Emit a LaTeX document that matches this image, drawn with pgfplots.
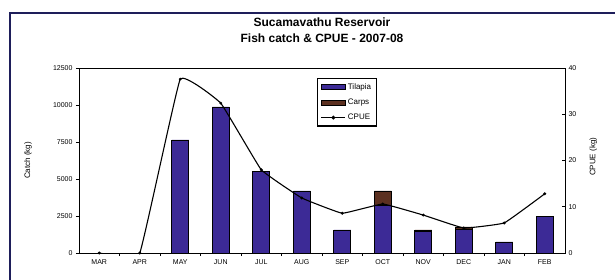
\documentclass[border=0pt]{standalone}
\usepackage{fontspec}
\setmainfont{Liberation Sans}
\usepackage{pgfplots}
\pgfplotsset{compat=1.18}
\definecolor{barblue}{RGB}{60,42,150}
\definecolor{barbrown}{RGB}{92,48,32}
\definecolor{framenavy}{RGB}{30,30,90}
\begin{document}
\begin{tikzpicture}
\useasboundingbox (0pt,0pt) rectangle (615pt,279pt);
\draw[line width=1.3pt, framenavy] (10pt,-10pt) -- (10pt,266pt) -- (640pt,266pt);
\begin{axis}[
  at={(79pt,26pt)}, anchor=south west, scale only axis,
  width=486pt, height=185pt,
  xmin=-0.5, xmax=11.5, ymin=0, ymax=12500,
  ybar stacked, bar width=17pt,
  xtick={0,...,11},
  xticklabels={MAR,APR,MAY,JUN,JUL,AUG,SEP,OCT,NOV,DEC,JAN,FEB},
  major x tick style={draw=none},
  minor xtick={0.5,1.5,...,10.5},
  minor tick length=3pt,
  ytick={0,2500,...,12500},
  ytick pos=left, xtick pos=bottom,
  tick align=outside, major tick length=3pt,
  axis line style={line width=0.9pt},
  tick style={line width=0.7pt, black},
  every tick label/.style={font=\fontsize{7}{8}\selectfont},
  /pgf/number format/assume math mode=true,
  /pgf/number format/set thousands separator={},
  scaled y ticks=false,
  ylabel={Catch (kg)},
  ylabel style={at={(axis description cs:-0.105,0.5)}, anchor=center, font=\fontsize{8}{9}\selectfont},
  title={Sucamavathu Reservoir\\Fish catch \& CPUE - 2007-08},
  title style={align=center, font=\bfseries\fontsize{12}{15.5}\selectfont, at={(axis description cs:0.5,1)}, anchor=south, yshift=16pt},
  legend style={at={(axis description cs:0.49,0.946)}, anchor=north west,
    draw=black, line width=1.3pt, font=\fontsize{8}{9}\selectfont,
    row sep=4pt, inner sep=3pt},
  legend cell align=left,
  area legend,
  legend image code/.code={\draw[#1, line width=0.6pt] (0pt,-2.5pt) rectangle (24pt,2.5pt);},
]
\addplot[fill=barblue, draw=black, line width=0.7pt] coordinates {
  (2,7640) (3,9865) (4,5540) (5,4190) (6,1555) (7,3245) (8,1455) (9,1607) (10,745) (11,2500)};
\addlegendentry{Tilapia}
\addplot[fill=barbrown, draw=black, line width=0.7pt] coordinates {
  (2,0) (3,0) (4,0) (5,0) (6,0) (7,945) (8,100) (9,150) (10,0) (11,0)};
\addlegendentry{Carps}
\addlegendimage{legend image code/.code={\draw[black, line width=1.1pt] (0pt,0pt) -- (24pt,0pt); \fill[black] (12pt,0pt) circle (1.2pt);}}
\addlegendentry{CPUE}
\end{axis}
\begin{axis}[
  at={(79pt,26pt)}, anchor=south west, scale only axis,
  width=486pt, height=185pt,
  xmin=-0.5, xmax=11.5, ymin=0, ymax=40,
  axis x line=none, axis y line*=right,
  ytick={0,10,...,40},
  tick align=inside, major tick length=3pt,
  axis line style={line width=0.9pt},
  tick style={line width=0.7pt, black},
  every tick label/.style={font=\fontsize{7}{8}\selectfont},
  /pgf/number format/assume math mode=true,
  ylabel={CPUE (kg)},
  ylabel style={at={(axis description cs:1.058,0.52)}, anchor=center, font=\fontsize{8}{9}\selectfont},
]
\addplot[black, line width=1.1pt, smooth, tension=0.15, mark=*, mark size=0.8pt] coordinates {
  (0,0) (1,0) (2,37.6) (3,32.4) (4,18) (5,11.9) (6,8.6) (7,10.6) (8,8.2) (9,5.4) (10,6.5) (11,12.8)};
\end{axis}
\end{tikzpicture}
\end{document}
